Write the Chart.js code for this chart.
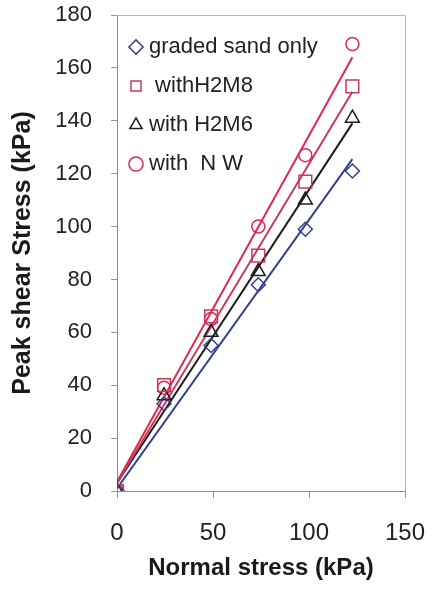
<!DOCTYPE html>
<html>
<head>
<meta charset="utf-8">
<script src="https://cdn.jsdelivr.net/npm/chart.js@4"></script>
<style>
    html, body { margin: 0; padding: 0; background: #ffffff; }
    #shearChart { display: block; }
</style>
</head>
<body>
<canvas id="shearChart" width="434" height="595"></canvas>
<script>
// Normal stress (kPa) of the tests
const normalStress = [0, 24.5, 49, 73.6, 98.1, 122.6];

// Peak shear stress (kPa)
const gradedSand = [0, 33, 55, 78, 99, 121];
const withH2M8 = [0, 40, 66, 89, 117, 153];
const withH2M6 = [0, 36, 60, 83, 110, 141];
const withNW = [0, 39, 65, 100, 127, 169];

// Trend lines: value at x = 0 and at the last test
const trendX = [0, 122.6];
const trendGraded = [1, 125.5];
const trendH2M8 = [3, 151];
const trendH2M6 = [3, 139];
const trendNW = [3.5, 164];

const seriesNames = ['graded sand only', ' withH2M8', 'with H2M6', 'with  N W'];
const xTicks = [0, 50, 100, 150];
const yTicks = [0, 20, 40, 60, 80, 100, 120, 140, 160, 180];

const fontFamily = "'Liberation Sans', Arial, sans-serif";

function toPoints(xs, ys) {
    return xs.map(function(x, i) { return { x: x, y: ys[i] }; });
}

// light frame on the top and right of the plot area
const framePlugin = {
    id: 'frame',
    beforeDatasetsDraw: function(chart) {
        const a = chart.chartArea;
        const ctx = chart.ctx;
        ctx.save();
        ctx.strokeStyle = '#b4b4b4';
        ctx.lineWidth = 1;
        ctx.beginPath();
        ctx.moveTo(a.left, a.top + 0.5);
        ctx.lineTo(a.right + 0.5, a.top + 0.5);
        ctx.lineTo(a.right + 0.5, a.bottom);
        ctx.stroke();
        ctx.restore();
    }
};

document.addEventListener("DOMContentLoaded", function() {
    const blue = '#34408c';
    const rose = '#c8385e';
    const black = '#1c1c1c';
    const red = '#e2264d';

    function markers(label, ys, color, style, radius) {
        return {
            label: label,
            data: toPoints(normalStress, ys),
            showLine: false,
            pointStyle: style,
            pointRadius: radius,
            pointBorderWidth: 1.5,
            pointBorderColor: color,
            pointBackgroundColor: 'rgba(255,255,255,0)',
            borderColor: color,
            backgroundColor: 'rgba(255,255,255,0)'
        };
    }

    function trend(ys, color) {
        return {
            label: 'trend',
            data: toPoints(trendX, ys),
            showLine: true,
            pointRadius: 0,
            borderColor: color,
            borderWidth: 2,
            fill: false
        };
    }

    new Chart(document.getElementById('shearChart').getContext('2d'), {
        type: 'scatter',
        data: {
            datasets: [
                markers(seriesNames[0], gradedSand, blue, 'rectRot', 7),
                markers(seriesNames[1], withH2M8, rose, 'rect', 9),
                markers(seriesNames[2], withH2M6, black, 'triangle', 8),
                markers(seriesNames[3], withNW, red, 'circle', 6.5),
                trend(trendGraded, blue),
                trend(trendH2M8, rose),
                trend(trendH2M6, black),
                trend(trendNW, red)
            ]
        },
        options: {
            responsive: false,
            animation: false,
            layout: {
                padding: { top: 15, right: 29, left: 0, bottom: 0 }
            },
            plugins: {
                tooltip: { enabled: false },
                legend: {
                    position: 'chartArea',
                    align: 'start',
                    // empty title only pushes the entries down
                    title: {
                        display: true,
                        text: ' ',
                        padding: { top: 7, bottom: 0 },
                        font: { family: fontFamily, size: 10 }
                    },
                    labels: {
                        usePointStyle: true,
                        boxWidth: 4,
                        boxHeight: 10,
                        padding: 17,
                        color: '#222222',
                        font: { family: fontFamily, size: 22 },
                        filter: function(item) { return item.datasetIndex < 4; }
                    }
                }
            },
            scales: {
                x: {
                    type: 'linear',
                    min: 0,
                    max: 150,
                    afterFit: function(scale) {
                        scale.height = 104;
                        scale.paddingLeft = 0;
                        scale.paddingRight = 0;
                    },
                    afterBuildTicks: function(scale) {
                        scale.ticks = xTicks.map(function(v) { return { value: v }; });
                    },
                    grid: { drawOnChartArea: false, tickLength: 7, color: '#999999' },
                    border: { color: '#8c8c8c', width: 1 },
                    ticks: {
                        padding: 21,
                        color: '#222222',
                        font: { family: fontFamily, size: 24 }
                    },
                    title: {
                        display: true,
                        text: 'Normal stress (kPa)',
                        color: '#1a1a1a',
                        padding: { top: 0, bottom: 12 },
                        font: { family: fontFamily, size: 24, weight: 'bold' }
                    }
                },
                y: {
                    type: 'linear',
                    min: 0,
                    max: 180,
                    afterFit: function(scale) {
                        scale.width = 117;
                        scale.paddingTop = 0;
                        scale.paddingBottom = 0;
                    },
                    afterBuildTicks: function(scale) {
                        scale.ticks = yTicks.map(function(v) { return { value: v }; });
                    },
                    grid: { drawOnChartArea: false, tickLength: 6, color: '#999999' },
                    border: { color: '#8c8c8c', width: 1 },
                    ticks: {
                        padding: 19,
                        color: '#222222',
                        font: { family: fontFamily, size: 22 }
                    },
                    title: {
                        display: true,
                        text: 'Peak shear Stress (kPa)',
                        color: '#1a1a1a',
                        padding: { top: 8, bottom: 0 },
                        font: { family: fontFamily, size: 25, weight: 'bold' }
                    }
                }
            }
        },
        plugins: [framePlugin]
    });
});
</script>
</body>
</html>
